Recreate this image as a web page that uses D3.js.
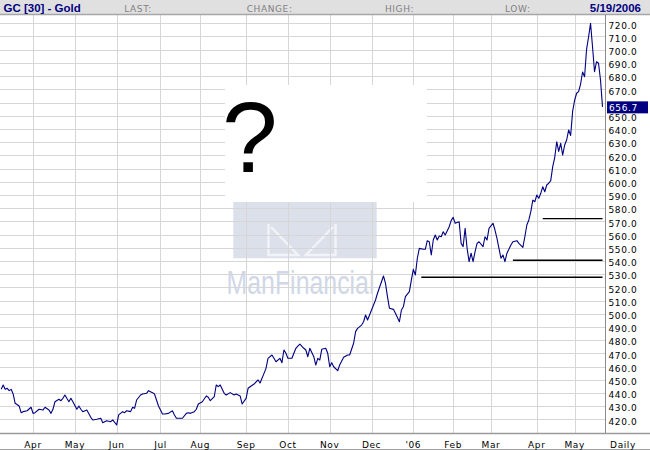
<!DOCTYPE html>
<html>
<head>
<meta charset="utf-8">
<script src="https://cdn.jsdelivr.net/npm/d3@7"></script>
<style>
  body { margin: 0; background: #fff; }
  svg { display: block; }
</style>
</head>
<body>
<script>
'use strict';

// trading-day index (0 = 10 Mar 2005, 302 = 19 May 2006) and settlement price
const tradeDays = [
    0, 1, 2, 3, 4, 5, 6, 7, 9, 10, 11, 13, 15, 16, 17, 19, 21, 22, 24, 25,
    26, 27, 29, 30, 31, 32, 34, 35, 36, 38, 39, 40, 41, 43, 45, 46, 48, 50, 51, 53,
    55, 56, 58, 59, 61, 62, 63, 65, 66, 67, 68, 70, 71, 73, 74, 76, 77, 78, 79, 81,
    82, 84, 86, 87, 88, 90, 91, 93, 94, 95, 97, 98, 99, 101, 103, 104, 105, 107, 108, 109,
    110, 112, 113, 115, 117, 118, 120, 121, 123, 124, 125, 127, 129, 130, 132, 133, 134, 136, 137, 138,
    140, 141, 142, 143, 144, 146, 148, 149, 150, 152, 153, 154, 155, 157, 158, 159, 160, 161, 163, 164,
    165, 166, 167, 169, 170, 172, 174, 175, 177, 178, 179, 181, 182, 183, 184, 186, 187, 188, 189, 191,
    192, 193, 194, 195, 197, 198, 200, 201, 202, 203, 205, 206, 207, 208, 209, 210, 212, 213, 214, 215,
    216, 217, 218, 219, 220, 221, 222, 223, 225, 226, 227, 228, 230, 231, 232, 233, 234, 235, 236, 237,
    238, 239, 240, 242, 243, 244, 245, 247, 248, 249, 250, 251, 252, 253, 254, 256, 257, 259, 260, 262,
    263, 264, 265, 266, 267, 268, 269, 270, 271, 272, 273, 274, 275, 276, 277, 278, 279, 280, 281, 282,
    283, 284, 285, 286, 287, 288, 289, 290, 291, 292, 293, 294, 295, 296, 297, 298, 299, 300, 301, 302
];
const closes = [
    442.7, 446.0, 442.7, 443.5, 441.7, 442.7, 439.2, 432.1, 430.1, 425.0, 425.8, 426.5, 429.1, 424.5, 425.0, 427.6, 427.0, 429.1, 427.0, 424.5,
    427.6, 433.3, 435.2, 434.1, 435.9, 438.4, 433.3, 435.9, 433.3, 427.6, 430.1, 427.6, 425.8, 427.0, 421.5, 419.5, 420.0, 420.8, 417.4, 418.9,
    418.2, 419.5, 415.7, 423.3, 425.8, 425.0, 426.5, 425.8, 429.1, 428.3, 434.6, 438.4, 439.2, 439.7, 441.7, 440.2, 439.2, 434.6, 430.1, 424.0,
    424.0, 424.5, 426.5, 423.3, 420.8, 420.8, 420.8, 424.5, 425.0, 424.5, 425.8, 427.6, 431.6, 433.3, 437.7, 436.7, 434.1, 437.1, 446.0, 444.7,
    446.0, 439.7, 438.4, 440.2, 438.4, 439.2, 437.7, 431.6, 435.9, 443.5, 444.7, 446.7, 449.8, 447.5, 454.8, 458.6, 466.2, 468.7, 466.2, 463.6,
    466.2, 462.9, 472.5, 470.0, 466.2, 466.2, 473.8, 475.5, 477.0, 473.8, 472.5, 467.4, 473.8, 467.4, 461.1, 466.2, 464.9, 473.0, 473.8, 470.0,
    459.8, 462.9, 459.8, 456.8, 461.1, 467.0, 468.7, 468.7, 477.6, 486.4, 488.9, 491.4, 493.9, 499.0, 495.2, 502.8, 506.6, 510.4, 515.5, 524.2,
    528.6, 523.0, 512.9, 504.1, 503.3, 500.3, 493.9, 502.8, 505.3, 512.9, 516.7, 525.5, 533.6, 529.3, 542.0, 549.5, 548.8, 548.8, 555.3, 554.5,
    544.5, 555.8, 559.6, 555.8, 558.9, 558.3, 562.1, 559.6, 565.9, 570.5, 573.0, 568.5, 569.7, 553.3, 550.8, 564.7, 549.5, 539.4, 545.8, 539.4,
    547.0, 553.3, 554.5, 550.8, 558.3, 555.8, 564.7, 568.5, 563.4, 557.1, 549.5, 542.0, 544.5, 539.4, 545.8, 552.0, 554.5, 555.3, 553.3, 550.3,
    558.3, 567.2, 571.0, 577.3, 586.1, 584.8, 589.9, 587.4, 591.2, 596.2, 592.4, 597.5, 598.8, 600.8, 611.4, 618.3, 630.3, 623.0, 629.1, 620.2,
    627.8, 631.6, 639.2, 635.0, 653.3, 661.7, 667.0, 668.2, 674.0, 683.1, 679.5, 700.3, 709.6, 720.0, 702.0, 683.3, 690.9, 689.7, 677.0, 656.7
];

// first trading day of each month and its label
const monthStartDays = [16, 37, 58, 80, 100, 123, 144, 165, 186, 207, 227, 246, 269, 288];
const monthLabels = ["Apr", "May", "Jun", "Jul", "Aug", "Sep", "Oct", "Nov", "Dec", "'06", "Feb", "Mar", "Apr", "May"];

const priceTicks = [
    420, 430, 440, 450, 460, 470, 480, 490, 500, 510, 520, 530, 540, 550, 560, 570,
    580, 590, 600, 610, 620, 630, 640, 650, 660, 670, 680, 690, 700, 710, 720
];

// horizontal levels drawn on the chart: start day and price, they run to the last day
const levelStartDays = [272, 257, 211];
const levelPrices = [572.0, 540.5, 527.6];

const headerFields = ["LAST:", "CHANGE:", "HIGH:", "LOW:"];
const chartTitle = "GC [30] - Gold";
const chartDate = "5/19/2006";
const lastDay = 302;
const lastClose = 656.7;

let width = 650, height = 450;
let plotRight = 605, plotTop = 15, axisY = 433.5;
let smallFont = "9px 'DejaVu Sans'";
let navy = "#000080";

let x = d3.scaleLinear().domain([0, lastDay]).range([1.2, 602.5]);
let y = d3.scaleLinear().domain([410, 720]).range([432.5, 23.3]);

let svg = d3.select("body").append("svg")
    .attr("width", width)
    .attr("height", height);

svg.append("rect")
    .attr("width", width)
    .attr("height", height)
    .attr("fill", "#fff");

// ManFinancial watermark (sits under the grid)
let wm = svg.append("g").attr("class", "watermark");
wm.append("rect")
    .attr("x", 233.3).attr("y", 170)
    .attr("width", 143.4).attr("height", 88.3)
    .attr("fill", "#dbe0eb");
wm.append("path")
    .attr("d", "M268.5,224V255H298L271,227 M335.5,224V255H306L333,227")
    .attr("fill", "none")
    .attr("stroke", "#f1f3f8")
    .attr("stroke-width", 2.5);
wm.append("text")
    .attr("x", 226.5)
    .attr("y", 293.5)
    .attr("textLength", 148)
    .attr("lengthAdjust", "spacingAndGlyphs")
    .style("font", "32.5px 'Liberation Sans'")
    .attr("fill", "#d0d7e7")
    .text("ManFinancial");

// grid
let grid = svg.append("g")
    .attr("stroke", "#d6d6d6")
    .attr("stroke-width", 1)
    .attr("shape-rendering", "crispEdges");

grid.selectAll("line.hgrid")
    .data(priceTicks)
    .enter().append("line")
    .attr("class", "hgrid")
    .attr("x1", 0)
    .attr("x2", plotRight)
    .attr("y1", function(d) { return Math.round(y(d)) + 0.5; })
    .attr("y2", function(d) { return Math.round(y(d)) + 0.5; });

grid.selectAll("line.vgrid")
    .data(monthStartDays)
    .enter().append("line")
    .attr("class", "vgrid")
    .attr("x1", function(d) { return Math.round(x(d)) + 0.5; })
    .attr("x2", function(d) { return Math.round(x(d)) + 0.5; })
    .attr("y1", plotTop)
    .attr("y2", axisY);

// blank panel with the question mark
svg.append("rect")
    .attr("x", 225).attr("y", 85)
    .attr("width", 202).attr("height", 117)
    .attr("fill", "#fff");
svg.append("text")
    .attr("x", 222)
    .attr("y", 172)
    .style("font", "100px 'Liberation Sans'")
    .attr("fill", "#000")
    .text("?");

// horizontal levels
svg.append("g").selectAll("line")
    .data(levelPrices)
    .enter().append("line")
    .attr("x1", function(d, i) { return x(levelStartDays[i]); })
    .attr("x2", x(lastDay))
    .attr("y1", function(d) { return y(d); })
    .attr("y2", function(d) { return y(d); })
    .attr("stroke", "#000")
    .attr("stroke-width", 1.3);

// price line
let series = tradeDays.map(function(d, i) { return [d, closes[i]]; });
let line = d3.line()
    .x(function(d) { return x(d[0]); })
    .y(function(d) { return y(d[1]); });

svg.append("path")
    .datum(series)
    .attr("d", line)
    .attr("fill", "none")
    .attr("stroke", navy)
    .attr("stroke-width", 1.1)
    .attr("stroke-linejoin", "round");

// header band
svg.append("rect")
    .attr("width", width).attr("height", 14)
    .attr("fill", "#e0e0e0");
svg.append("line")
    .attr("x1", 0).attr("x2", width)
    .attr("y1", 14.5).attr("y2", 14.5)
    .attr("stroke", "#a6a6a6")
    .attr("stroke-width", 1.3);

svg.append("text")
    .attr("x", 3.5).attr("y", 11.6)
    .style("font", "bold 11.5px 'Liberation Sans'")
    .attr("fill", navy)
    .text(chartTitle);

let fieldX = [124.3, 246.7, 385, 505];
svg.append("g").selectAll("text")
    .data(headerFields)
    .enter().append("text")
    .attr("x", function(d, i) { return fieldX[i]; })
    .attr("y", 11.6)
    .style("font", smallFont)
    .style("letter-spacing", "0.6px")
    .attr("fill", "#808080")
    .text(function(d) { return d; });

svg.append("text")
    .attr("x", 641).attr("y", 11.6)
    .attr("text-anchor", "end")
    .style("font", "bold 11.5px 'Liberation Sans'")
    .attr("fill", navy)
    .text(chartDate);

// axes frame
svg.append("line")
    .attr("x1", plotRight + 0.5).attr("x2", plotRight + 0.5)
    .attr("y1", plotTop).attr("y2", axisY)
    .attr("stroke", "#8a8a8a");
svg.append("line")
    .attr("x1", 0).attr("x2", width)
    .attr("y1", axisY).attr("y2", axisY)
    .attr("stroke", "#9a9a9a")
    .attr("stroke-width", 1.3);
svg.append("line")
    .attr("x1", 0).attr("x2", width)
    .attr("y1", 449.5).attr("y2", 449.5)
    .attr("stroke", "#a0a0a0");

// price labels (the one under the last-price tag is hidden, as on the original)
let visibleTicks = priceTicks.filter(function(d) {
    return Math.abs(y(d) - y(lastClose)) > 8;
});
svg.append("g").selectAll("text")
    .data(visibleTicks)
    .enter().append("text")
    .attr("x", 608.5)
    .attr("y", function(d) { return y(d) + 5.3; })
    .style("font", smallFont)
    .style("letter-spacing", "0.6px")
    .attr("fill", "#000")
    .text(function(d) { return d3.format(".1f")(d); });

// month labels
svg.append("g").selectAll("text")
    .data(monthStartDays)
    .enter().append("text")
    .attr("x", function(d) { return x(d); })
    .attr("y", 447.5)
    .attr("text-anchor", "middle")
    .style("font", smallFont)
    .style("letter-spacing", "0.6px")
    .attr("fill", "#000")
    .text(function(d, i) { return monthLabels[i]; });

svg.append("text")
    .attr("x", 623).attr("y", 447.5)
    .attr("text-anchor", "middle")
    .style("font", smallFont)
    .style("letter-spacing", "0.6px")
    .attr("fill", "#000")
    .text("Daily");

// last price tag
svg.append("rect")
    .attr("x", 607).attr("y", y(lastClose) - 5.5)
    .attr("width", 41).attr("height", 12)
    .attr("fill", navy);
svg.append("text")
    .attr("x", 609).attr("y", y(lastClose) + 3.9)
    .style("font", smallFont)
    .style("letter-spacing", "0.6px")
    .attr("fill", "#fff")
    .text(d3.format(".1f")(lastClose));
</script>
</body>
</html>
